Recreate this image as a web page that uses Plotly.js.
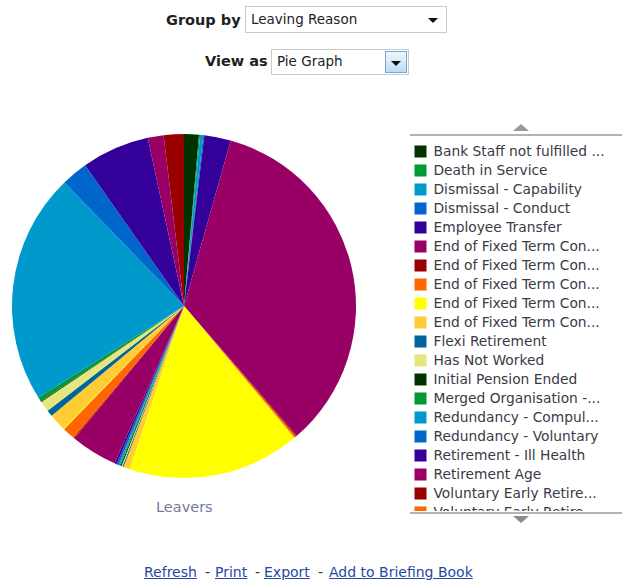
<!DOCTYPE html>
<html>
<head>
<meta charset="utf-8">
<script src="https://cdn.plot.ly/plotly-3.0.1.min.js"></script>
<style>
html,body{margin:0;padding:0;background:#fff;}
#wrap{position:relative;width:622px;height:582px;overflow:hidden;font-family:'DejaVu Sans',sans-serif;}
#chart{position:absolute;left:0;top:0;width:622px;height:582px;}
.lbl{position:absolute;font-weight:bold;font-size:14.5px;color:#1e1e1e;white-space:nowrap;line-height:1;}
.box{position:absolute;background:#fff;border:1px solid #c9c9c9;box-sizing:border-box;font-size:13.5px;color:#222;white-space:nowrap;}
.box .t{position:absolute;left:5px;top:50%;transform:translateY(-50%);line-height:1;}
.caret{position:absolute;width:0;height:0;border-left:5px solid transparent;border-right:5px solid transparent;border-top:5px solid #111;}
.btn{position:absolute;top:1px;bottom:1px;right:1px;width:22px;border:1px solid #7aa7cf;background:linear-gradient(#eef7fe,#bcdcf3);box-sizing:border-box;}
.ft{position:absolute;top:564px;font-size:14px;color:#333;white-space:nowrap;line-height:1.2;}
a.ft{color:#2448a4;text-decoration:underline;}
.legend .scrollbar{display:none;}
.legendtext{font-size:13.8px !important;transform:translateX(-7px);}
</style>
</head>
<body>
<div id="wrap">
  <div id="chart"></div>
  <div class="lbl" style="left:166px;top:13px;">Group by</div>
  <div class="box" style="left:245px;top:6px;width:202px;height:27px;">
    <span class="t">Leaving Reason</span>
    <span class="caret" style="left:182px;top:11px;"></span>
  </div>
  <div class="lbl" style="left:205px;top:54px;">View as</div>
  <div class="box" style="left:271px;top:49px;width:138px;height:26px;">
    <span class="t">Pie Graph</span>
    <span class="btn"><span class="caret" style="left:5px;top:9px;"></span></span>
  </div>
  <a class="ft" style="left:144px;">Refresh</a>
  <span class="ft" style="left:205px;">-</span>
  <a class="ft" style="left:215px;">Print</a>
  <span class="ft" style="left:255px;">-</span>
  <a class="ft" style="left:264px;">Export</a>
  <span class="ft" style="left:318px;">-</span>
  <a class="ft" style="left:329px;">Add to Briefing Book</a>
</div>
<script>
// ---- data (legend order = slice order, clockwise from 12 o'clock) ----
var legendLabels = [
  "Bank Staff not fulfilled ...",
  "Death in Service",
  "Dismissal - Capability",
  "Dismissal - Conduct",
  "Employee Transfer",
  "End of Fixed Term Con...",
  "End of Fixed Term Con...",
  "End of Fixed Term Con...",
  "End of Fixed Term Con...",
  "End of Fixed Term Con...",
  "Flexi Retirement",
  "Has Not Worked",
  "Initial Pension Ended",
  "Merged Organisation -...",
  "Redundancy - Compul...",
  "Redundancy - Voluntary",
  "Retirement - Ill Health",
  "Retirement Age",
  "Voluntary Early Retire...",
  "Voluntary Early Retire...",
  "Voluntary Resignation...",
  "Voluntary Resignation...",
  "Voluntary Resignation...",
  "Voluntary Resignation...",
  "Voluntary Resignation...",
  "Voluntary Resignation...",
  "Voluntary Resignation...",
  "Voluntary Resignation...",
  "Voluntary Resignation...",
  "Voluntary Resignation...",
  "Voluntary Resignation..."
];
var leavers = [14, 1, 3, 1, 25, 344, 1, 2, 163, 6, 1, 1, 1, 1, 1, 2, 2, 44, 1, 12, 1, 16, 6, 10, 1, 4, 218, 25, 64, 15, 19];
var palette = ["#003300", "#009933", "#0099CC", "#0066CC", "#330099", "#990066",
               "#990000", "#FF6600", "#FFFF00", "#FFCC33", "#006699", "#E6E67F"];
var measureTitle = "Leavers";

// ---- build ----
var W = 622, H = 582;
function px(x) { return x / W; }
function py(y) { return 1 - y / H; }
// identical visible labels made distinct with zero-width characters so slices are not merged
var labels = legendLabels.map(function (s, i) { return s + "\u200B".repeat(i); });
var colors = legendLabels.map(function (s, i) { return palette[i % palette.length]; });

var trace = {
  type: "pie",
  labels: labels,
  values: leavers,
  sort: false,
  direction: "clockwise",
  rotation: 0,
  textinfo: "none",
  hoverinfo: "label+value+percent",
  marker: { colors: colors, line: { width: 0 } },
  domain: { x: [px(12), px(356)], y: [py(478), py(134)] }
};

function tri(cx, yBase, yTip, half) {
  return "M " + px(cx - half) + " " + py(yBase) + " L " + px(cx + half) + " " + py(yBase) +
         " L " + px(cx) + " " + py(yTip) + " Z";
}

var layout = {
  width: W, height: H,
  margin: { l: 0, r: 0, t: 0, b: 0 },
  paper_bgcolor: "#ffffff",
  showlegend: true,
  legend: {
    x: px(400.5), xanchor: "left",
    y: py(137), yanchor: "top",
    maxheight: 374,
    bgcolor: "rgba(0,0,0,0)",
    borderwidth: 0,
    traceorder: "normal",
    font: { family: "DejaVu Sans", size: 12.3, color: "#3a3a46" }
  },
  annotations: [{
    text: measureTitle, xref: "paper", yref: "paper",
    x: px(184), y: py(507), xanchor: "center", yanchor: "middle", showarrow: false,
    font: { family: "DejaVu Sans", size: 14.5, color: "#737a9c" }
  }],
  shapes: [
    { type: "line", xref: "paper", yref: "paper", x0: px(410), x1: px(622), y0: py(135), y1: py(135),
      line: { color: "#9a9a9a", width: 1.5 } },
    { type: "line", xref: "paper", yref: "paper", x0: px(410), x1: px(622), y0: py(513), y1: py(513),
      line: { color: "#9a9a9a", width: 1.5 } },
    { type: "path", xref: "paper", yref: "paper", path: tri(521, 131, 124, 8),
      fillcolor: "#9a9a9a", line: { width: 0 } },
    { type: "path", xref: "paper", yref: "paper", path: tri(521, 516, 523, 8),
      fillcolor: "#8a8a8a", line: { width: 0 } }
  ]
};

Plotly.newPlot("chart", [trace], layout, { displayModeBar: false, staticPlot: true });
</script>
</body>
</html>
